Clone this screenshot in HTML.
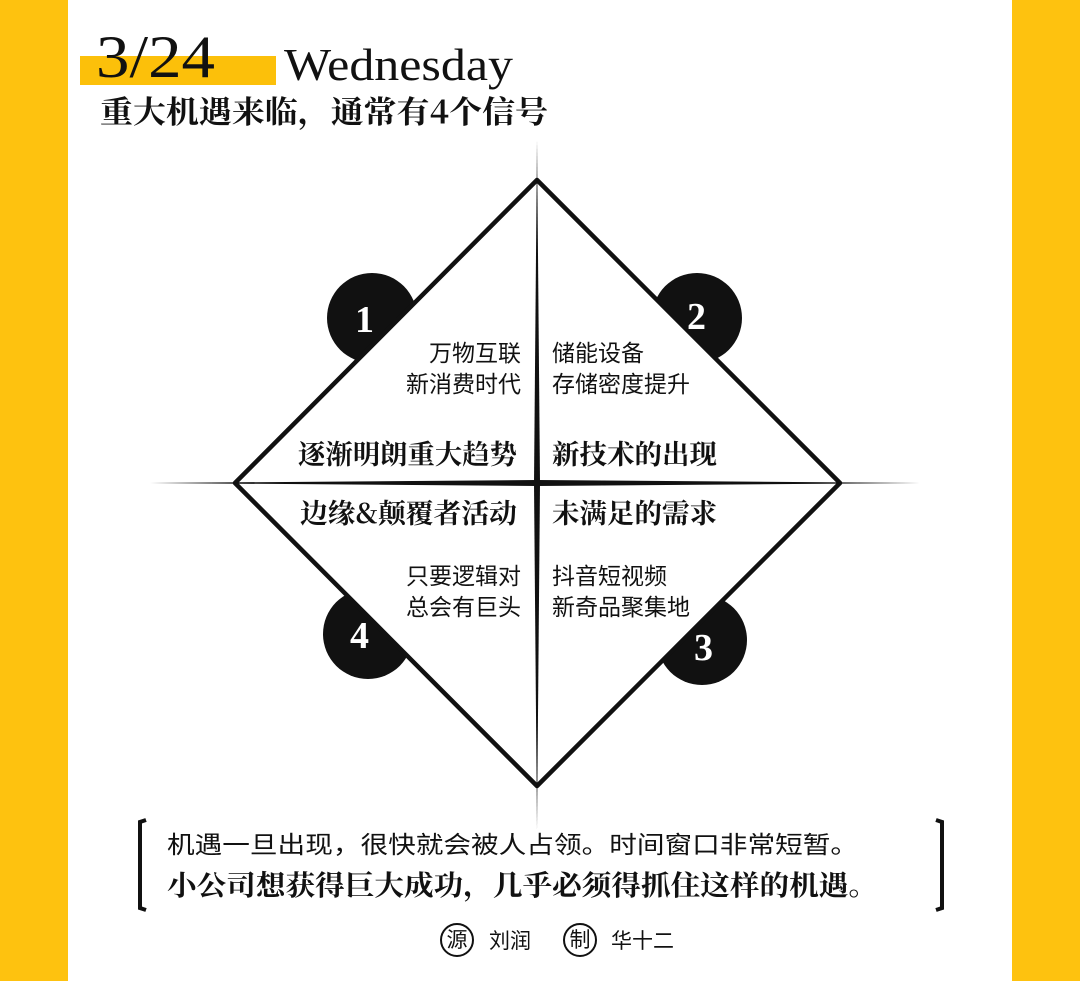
<!DOCTYPE html>
<html><head><meta charset="utf-8">
<style>
body{margin:0;width:1080px;height:981px;overflow:hidden;background:#fec20f;font-family:"Liberation Serif","Noto Serif CJK SC",serif}
svg{position:absolute;left:0;top:0}
</style></head><body>
<svg width="1080" height="981" viewBox="0 0 1080 981">
<rect x="0" y="0" width="1080" height="981" fill="#fec20f"/>
<rect x="68" y="0" width="944" height="981" fill="#fff"/>
<rect x="80" y="56" width="196" height="29" fill="#fcc00a"/>
<text x="96" y="77" font-size="60" fill="#111" textLength="119" lengthAdjust="spacingAndGlyphs" font-family="Liberation Serif,serif">3/24</text>
<text x="284" y="80" font-size="46" fill="#111" textLength="229" lengthAdjust="spacingAndGlyphs" font-family="Liberation Serif,serif">Wednesday</text>
<text x="100" y="123" font-size="31" font-weight="bold" fill="#111" textLength="448" lengthAdjust="spacingAndGlyphs" font-family="Noto Serif CJK SC,serif">重大机遇来临，通常有4个信号</text>
<g>
<circle cx="372" cy="318" r="45" fill="#111"/>
<circle cx="697" cy="318" r="45" fill="#111"/>
<circle cx="702" cy="640" r="45" fill="#111"/>
<circle cx="368" cy="634" r="45" fill="#111"/>
</g>
<path d="M537 180 L840 483 L537 786 L235 483 Z" fill="#fff" stroke="#111" stroke-width="4.5" stroke-linejoin="round"/>
<polygon points="150,483 537,480 920,483 537,486" fill="#111"/>
<polygon points="537,140 540,483 537,830 534,483" fill="#111"/>
<g font-size="38" font-weight="bold" fill="#fff" font-family="Liberation Serif,serif">
<text x="355" y="332">1</text><text x="687" y="329">2</text><text x="694" y="660">3</text><text x="350" y="648">4</text>
</g>
<g font-family="Noto Sans CJK SC,sans-serif" fill="#111">
<g font-size="23" text-anchor="end">
<text x="521" y="361">万物互联</text>
<text x="521" y="392">新消费时代</text>
<text x="521" y="584">只要逻辑对</text>
<text x="521" y="615">总会有巨头</text>
</g>
<g font-size="23">
<text x="552" y="361">储能设备</text>
<text x="552" y="392">存储密度提升</text>
<text x="552" y="584">抖音短视频</text>
<text x="552" y="615">新奇品聚集地</text>
</g>
<g font-size="27" font-weight="bold" font-family="Noto Serif CJK SC,serif">
<text x="298" y="464" textLength="219" lengthAdjust="spacingAndGlyphs">逐渐明朗重大趋势</text>
<text x="552" y="464" textLength="165" lengthAdjust="spacingAndGlyphs">新技术的出现</text>
<text x="300" y="523" textLength="217" lengthAdjust="spacingAndGlyphs">边缘&amp;颠覆者活动</text>
<text x="552" y="523" textLength="165" lengthAdjust="spacingAndGlyphs">未满足的需求</text>
</g>
</g>
<path d="M146 820 L140 822 L140 908 L146 910" fill="none" stroke="#111" stroke-width="4"/>
<path d="M936 820 L942 822 L942 908 L936 910" fill="none" stroke="#111" stroke-width="4"/>
<text x="167" y="853" font-size="24" fill="#111" textLength="691" lengthAdjust="spacingAndGlyphs" font-family="Noto Sans CJK SC,sans-serif">机遇一旦出现，很快就会被人占领。时间窗口非常短暂。</text>
<text x="167" y="895" font-size="28" font-weight="bold" fill="#111" textLength="711" lengthAdjust="spacingAndGlyphs" font-family="Noto Serif CJK SC,serif">小公司想获得巨大成功，几乎必须得抓住这样的机遇。</text>
<g font-family="Noto Sans CJK SC,sans-serif" fill="#111" font-size="21">
<circle cx="457" cy="940" r="16" fill="none" stroke="#111" stroke-width="2"/>
<text x="457" y="947" text-anchor="middle">源</text>
<text x="489" y="948">刘润</text>
<circle cx="580" cy="940" r="16" fill="none" stroke="#111" stroke-width="2"/>
<text x="580" y="947" text-anchor="middle">制</text>
<text x="611" y="948">华十二</text>
</g>
</svg>
</body></html>
